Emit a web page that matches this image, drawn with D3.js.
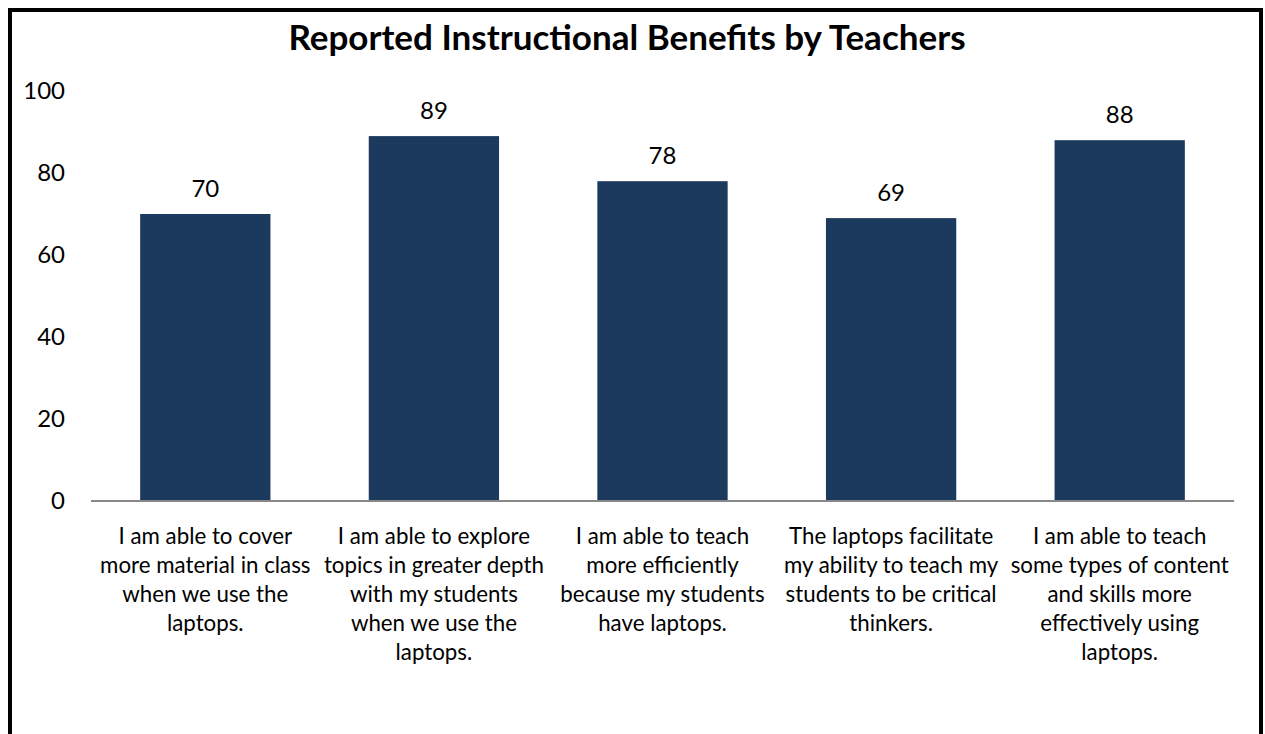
<!DOCTYPE html>
<html lang="en">
<head>
  <meta charset="UTF-8">
  <title>Reported Instructional Benefits by Teachers</title>
  <script src="https://d3js.org/d3.v7.min.js"></script>
  <style>
    body { margin: 0; background: #fff; }
    svg { display: block; font-family: Lato, "Open Sans", sans-serif; }
  </style>
</head>
<body>
  <div id="chart"></div>
  <script>
    const categories = [
      ["I am able to cover", "more material in class", "when we use the", "laptops."],
      ["I am able to explore", "topics in greater depth", "with my students", "when we use the", "laptops."],
      ["I am able to teach", "more efficiently", "because my students", "have laptops."],
      ["The laptops facilitate", "my ability to teach my", "students to be critical", "thinkers."],
      ["I am able to teach", "some types of content", "and skills more", "effectively using", "laptops."]
    ];
    const values = [70, 89, 78, 69, 88];
    const yTicks = [0, 20, 40, 60, 80, 100];

    const width = 1265, height = 734;
    const margin = { top: 91, right: 31, bottom: 233, left: 91 };

    const svg = d3.select("#chart").append("svg")
        .attr("width", width)
        .attr("height", height);

    // frame
    svg.append("rect")
        .attr("x", 10).attr("y", 10)
        .attr("width", 1251).attr("height", 740)
        .attr("fill", "#fff")
        .attr("stroke", "#000")
        .attr("stroke-width", 4);

    svg.append("text")
        .attr("x", 627)
        .attr("y", 50)
        .attr("text-anchor", "middle")
        .attr("font-size", 35)
        .attr("font-weight", "bold")
        .text("Reported Instructional Benefits by Teachers");

    const x = d3.scaleBand()
        .domain(d3.range(values.length))
        .range([margin.left, width - margin.right])
        .paddingInner(0.43)
        .paddingOuter(0.215);

    const y = d3.scaleLinear()
        .domain([0, 100])
        .range([height - margin.bottom, margin.top]);

    // y axis labels only
    const yAxis = svg.append("g")
        .attr("transform", `translate(${margin.left},0)`)
        .call(d3.axisLeft(y).tickValues(yTicks).tickSize(0).tickPadding(26));
    yAxis.select(".domain").remove();
    yAxis.selectAll("text")
        .attr("font-family", "Lato, 'Open Sans', sans-serif")
        .attr("font-size", 24)
        .attr("fill", "#000");

    svg.selectAll("rect.bar")
        .data(values)
        .enter()
        .append("rect")
        .attr("class", "bar")
        .attr("x", (d, i) => x(i))
        .attr("y", d => y(d))
        .attr("width", x.bandwidth())
        .attr("height", d => y(0) - y(d))
        .attr("fill", "#1c3a5e");

    svg.selectAll("text.value")
        .data(values)
        .enter()
        .append("text")
        .attr("class", "value")
        .attr("x", (d, i) => x(i) + x.bandwidth() / 2)
        .attr("y", d => y(d) - 17)
        .attr("text-anchor", "middle")
        .attr("font-size", 24)
        .text(d => d);

    // baseline
    svg.append("line")
        .attr("x1", margin.left)
        .attr("x2", width - margin.right)
        .attr("y1", y(0))
        .attr("y2", y(0))
        .attr("stroke", "#888")
        .attr("stroke-width", 2);

    const labels = svg.selectAll("text.cat")
        .data(categories)
        .enter()
        .append("text")
        .attr("class", "cat")
        .attr("text-anchor", "middle")
        .attr("font-size", 22.3)
        .attr("x", (d, i) => x(i) + x.bandwidth() / 2);

    labels.selectAll("tspan")
        .data(d => d)
        .enter()
        .append("tspan")
        .attr("x", function () { return d3.select(this.parentNode).attr("x"); })
        .attr("y", (d, j) => y(0) + 43 + j * 29)
        .text(d => d);
  </script>
</body>
</html>
